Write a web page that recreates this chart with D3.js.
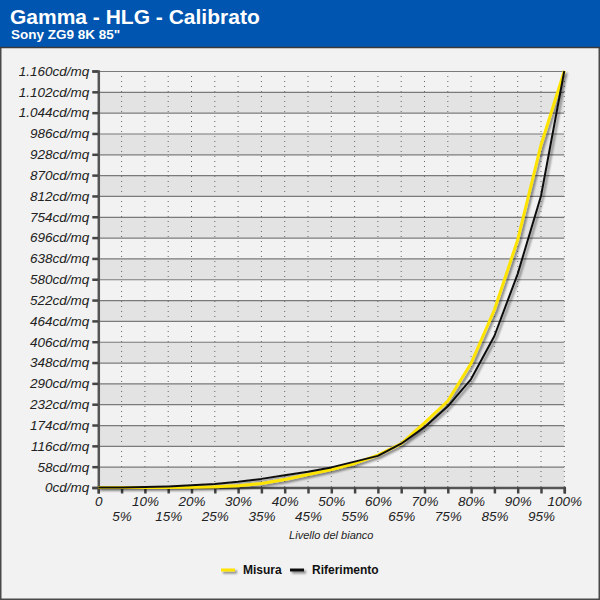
<!DOCTYPE html>
<html>
<head>
<meta charset="utf-8">
<script src="https://cdn.jsdelivr.net/npm/d3@7"></script>
<style>
  body { margin: 0; background: #fff; }
  svg { display: block; font-family: "Liberation Sans", Arial, sans-serif; }
</style>
</head>
<body>
<svg id="chart" width="600" height="600"></svg>
<script>
// Livello del bianco (%)
var levels = [0, 5, 10, 15, 20, 25, 30, 35, 40, 45, 50, 55, 60, 65, 70, 75, 80, 85, 90, 95, 100];
// Misura (cd/mq)
var misura = [0, 0, 0, 0.3, 1, 2, 5, 11, 22, 36, 50, 67, 90, 122, 180, 241, 346, 495, 690, 954, 1160];
// Riferimento (cd/mq)
var riferimento = [0, 0.3, 1.2, 3, 6, 10, 16, 24, 34, 44, 56, 72, 88, 122, 168, 226, 302, 422, 595, 812, 1160];
var yTicks = d3.range(0, 1161, 58);
var seriesNames = ["Misura", "Riferimento"];
var seriesColors = ["#ffe400", "#111111"];

var svg = d3.select("#chart");
var W = 600, H = 600;

// background + frame
svg.append("rect").attr("x", 0.75).attr("y", 0.75).attr("width", W - 1.5).attr("height", H - 1.5)
  .attr("fill", "#f2f2f2").attr("stroke", "#4a4a4a").attr("stroke-width", 1.5);
svg.append("rect").attr("x", 0).attr("y", 0).attr("width", W).attr("height", 47).attr("fill", "#0055b0");
svg.append("line").attr("x1", 0).attr("x2", W).attr("y1", 47.5).attr("y2", 47.5)
  .attr("stroke", "#3a3a3a").attr("stroke-width", 1.5);
svg.append("text").attr("x", 10).attr("y", 24).attr("fill", "#fff")
  .style("font-size", "21px").style("font-weight", "bold").text("Gamma - HLG - Calibrato");
svg.append("text").attr("x", 11).attr("y", 39).attr("fill", "#fff")
  .style("font-size", "13.5px").style("font-weight", "bold").text('Sony ZG9 8K 85"');

var x = d3.scaleLinear().domain([0, 100]).range([98.3, 564.3]);
var y = d3.scaleLinear().domain([0, 1160]).range([487.5, 71]);

// shadow filter (user space so thin shapes still get it)
var defs = svg.append("defs");
var f = defs.append("filter").attr("id", "shadow").attr("filterUnits", "userSpaceOnUse")
  .attr("x", 0).attr("y", 0).attr("width", W).attr("height", H);
f.append("feDropShadow").attr("dx", 2).attr("dy", 2).attr("stdDeviation", 1.2)
  .attr("flood-color", "#000").attr("flood-opacity", 0.45);

// bands
var plot = svg.append("g");
plot.selectAll(".band").data(yTicks.slice(0, -1)).enter().append("rect")
  .attr("x", x(0)).attr("width", x(100) - x(0))
  .attr("y", function(d) { return y(d + 58); })
  .attr("height", function(d) { return y(d) - y(d + 58); })
  .attr("fill", function(d, i) { return i % 2 === 0 ? "#e3e3e3" : "#f2f2f2"; });

// vertical dotted grid
plot.selectAll(".vg").data(levels.slice(1)).enter().append("line")
  .attr("x1", function(d) { return x(d); }).attr("x2", function(d) { return x(d); })
  .attr("y1", y(1160)).attr("y2", y(0))
  .attr("stroke", "#666").attr("stroke-width", 1).attr("stroke-dasharray", "1,4");

// horizontal grid
plot.selectAll(".hg").data(yTicks.slice(1)).enter().append("line")
  .attr("x1", x(0)).attr("x2", x(100))
  .attr("y1", function(d) { return y(d) + 0.5; }).attr("y2", function(d) { return y(d) + 0.5; })
  .attr("stroke", "#7a7a7a").attr("stroke-width", 1.2);

// axes
var fmt = function(d) { return d3.format(",")(d).replace(",", ".") + "cd/mq"; };
var yAxis = svg.append("g").attr("transform", "translate(" + x(0) + ",0)")
  .call(d3.axisLeft(y).tickValues(yTicks).tickSize(6).tickPadding(3).tickFormat(fmt));
yAxis.select(".domain").attr("stroke", "#555").attr("stroke-width", 2.5);
yAxis.selectAll(".tick line").attr("stroke", "#444").attr("stroke-width", 2.5);
yAxis.selectAll(".tick text").attr("fill", "#222")
  .style("font-size", "13.5px").style("font-style", "italic").style("font-family", "'Liberation Sans', Arial, sans-serif");

var xAxis = svg.append("g").attr("transform", "translate(0," + y(0) + ")")
  .call(d3.axisBottom(x).tickValues(levels).tickSize(6).tickPadding(4)
    .tickFormat(function(d) { return d === 0 ? "0" : d + "%"; }));
xAxis.select(".domain").attr("stroke", "#555").attr("stroke-width", 2.5);
xAxis.selectAll(".tick line").attr("stroke", "#444").attr("stroke-width", 2.5);
xAxis.selectAll(".tick text").attr("fill", "#222")
  .style("font-size", "13.5px").style("font-style", "italic").style("font-family", "'Liberation Sans', Arial, sans-serif")
  .attr("y", function(d) { return d % 10 === 0 ? 9 : 24; });

svg.append("text").attr("x", x(50)).attr("y", 539).attr("text-anchor", "middle")
  .attr("fill", "#222").style("font-size", "11px").style("font-style", "italic").text("Livello del bianco");

// lines
var line = d3.line().x(function(d, i) { return x(levels[i]); }).y(function(d) { return y(d); });
var series = [misura, riferimento];
svg.append("g").attr("filter", "url(#shadow)").selectAll("path").data(series).enter().append("path")
  .attr("d", line).attr("fill", "none")
  .attr("stroke", function(d, i) { return seriesColors[i]; })
  .attr("stroke-width", function(d, i) { return i === 0 ? 3 : 2; })
  .attr("stroke-linejoin", "round");

// legend
var leg = svg.append("g").attr("filter", "url(#shadow)");
var legX = [221, 290];
seriesNames.forEach(function(name, i) {
  leg.append("rect").attr("x", legX[i]).attr("y", 568.5).attr("width", 14).attr("height", 3)
    .attr("fill", seriesColors[i]);
});
var legT = svg.append("g");
seriesNames.forEach(function(name, i) {
  legT.append("text").attr("x", legX[i] + 22).attr("y", 574).attr("fill", "#111")
    .style("font-size", "12px").style("font-weight", "bold").text(name);
});
</script>
</body>
</html>
